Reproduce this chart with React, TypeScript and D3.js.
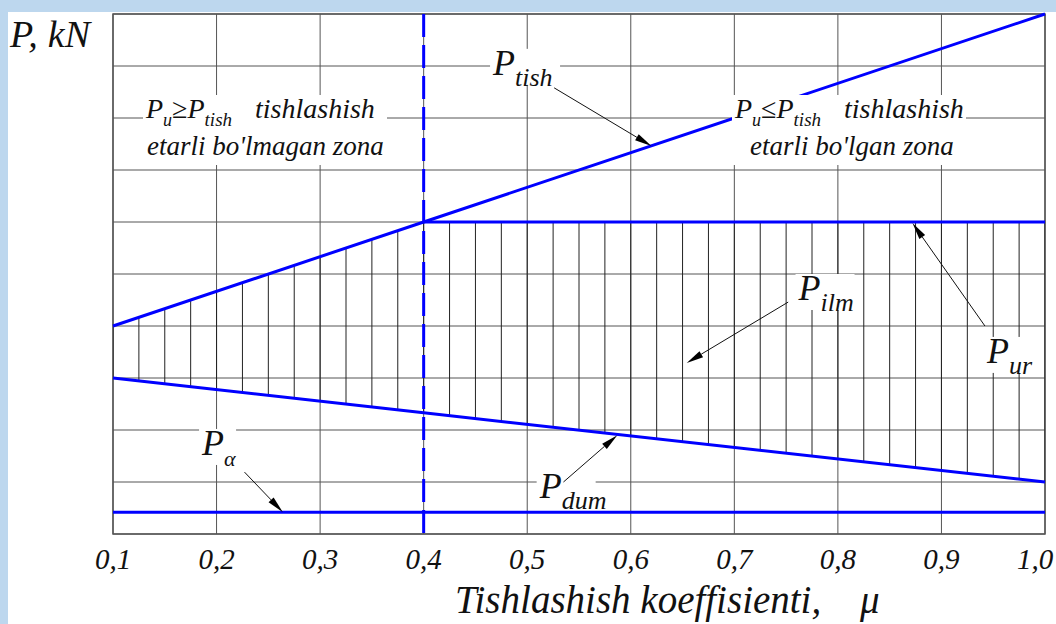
import React from "react";
import * as d3 from "d3";

// friction coefficient ticks along the bottom
const muTicks = [0.1, 0.2, 0.3, 0.4, 0.5, 0.6, 0.7, 0.8, 0.9, 1.0];
const tickLabels = ["0,1", "0,2", "0,3", "0,4", "0,5", "0,6", "0,7", "0,8", "0,9", "1,0"];
// unlabelled force grid levels
const pLevels = [0, 1, 2, 3, 4, 5, 6, 7, 8, 9, 10];

// lines, [mu, P]
const pTish = [[0.1, 4.0], [0.4, 6.0], [1.0, 10.0]];
const pUr = [[0.4, 6.0], [1.0, 6.0]];
const pDum = [[0.1, 3.0], [0.4, 2.33], [1.0, 1.0]];
const pAlpha = [[0.1, 0.42], [1.0, 0.42]];
const muBorder = 0.4;

// labels with leader arrows, [mu, P]
const callouts = [
  { sub: "tish", at: [0.467, 8.83], from: [0.526, 8.58], tip: [0.62, 7.46] },
  { sub: "ilm", at: [0.762, 4.5], from: [0.752, 4.46], tip: [0.654, 3.29] },
  { sub: "ur", at: [0.944, 3.29], from: [0.942, 4.0], tip: [0.872, 5.98] },
  { sub: "dum", at: [0.512, 0.69], from: [0.535, 1.0], tip: [0.587, 1.9] },
  { sub: "α", at: [0.186, 1.52], from: [0.227, 1.19], tip: [0.264, 0.42] },
];

const W = 1056, H = 624;
const BLUE = "#0000ff";
const ital = { fontFamily: "Times New Roman", fontStyle: "italic" } as const;

function Arrow({ x1, y1, x2, y2 }) {
  const a = Math.atan2(y2 - y1, x2 - x1);
  const L = 17, hw = 3.5;
  const bx = x2 - L * Math.cos(a), by = y2 - L * Math.sin(a);
  const px = -Math.sin(a) * hw, py = Math.cos(a) * hw;
  return (
    <g>
      <line x1={x1} y1={y1} x2={bx} y2={by} stroke="#111" strokeWidth={1} />
      <polygon points={`${x2},${y2} ${bx + px},${by + py} ${bx - px},${by - py}`} fill="#000" />
    </g>
  );
}

export default function App() {
  const x = d3.scaleLinear().domain([0.1, 1.0]).range([113, 1045]);
  const y = d3.scaleLinear().domain([0, 10]).range([534, 14]);
  const line = d3.line().x((d) => x(d[0])).y((d) => y(d[1]));

  // hatched zone between P_dum and the upper bound (P_tish up to 0.4, then P_ur)
  const upper = pTish.filter((d) => d[0] <= muBorder).concat(pUr.slice(1));
  const zone = line(upper.concat(pDum.slice().reverse())) + "Z";
  const hatch = d3.range(0, 37).map((i) => 0.1 + i * 0.025);

  const x0 = x.range()[0], x1 = x.range()[1];
  const yTop = y.range()[1], yBot = y.range()[0];

  return (
    <svg width={W} height={H} style={{ position: "absolute", left: 0, top: 0 }}>
      <rect width={W} height={H} fill="#fff" />
      <rect width={W} height={12} fill="#bdd7ee" />
      <rect width={8} height={H} fill="#bdd7ee" />

      <defs>
        <clipPath id="zone">
          <path d={zone} />
        </clipPath>
      </defs>

      {/* grid */}
      {pLevels.map((p) => (
        <line key={"h" + p} x1={x0} x2={x1} y1={y(p)} y2={y(p)} stroke="#555" strokeWidth={1} />
      ))}
      {muTicks.map((m) => (
        <line key={"v" + m} x1={x(m)} x2={x(m)} y1={yTop} y2={yBot} stroke="#555" strokeWidth={1} />
      ))}
      <rect x={x0} y={yTop} width={x1 - x0} height={yBot - yTop} fill="none" stroke="#555" strokeWidth={1.5} />

      {/* hatching */}
      <g clipPath="url(#zone)">
        {hatch.map((m) => (
          <line key={"z" + m} x1={x(m)} x2={x(m)} y1={yTop} y2={yBot} stroke="#222" strokeWidth={1} />
        ))}
      </g>

      {/* white plates under callout labels */}
      {callouts.map((c) => {
        const lx = x(c.at[0]), ly = y(c.at[1]);
        return <rect key={"b" + c.sub} x={lx - 3} y={ly - 26} width={26 + c.sub.length * 11} height={36} fill="#fff" />;
      })}

      {/* curves */}
      {[pTish, pUr, pDum, pAlpha].map((s, i) => (
        <path key={"s" + i} d={line(s)} fill="none" stroke={BLUE} strokeWidth={3} />
      ))}
      <line x1={x(muBorder)} x2={x(muBorder)} y1={yTop} y2={yBot} stroke={BLUE} strokeWidth={3} strokeDasharray="23 8" />

      {/* zone notes */}
      <rect x={143} y={95} width={244} height={70} fill="#fff" />
      <rect x={732} y={95} width={234} height={70} fill="#fff" />
      <g fontSize={28} fill="#111">
        <text x={146} y={118} style={ital}>
          P<tspan fontSize={18} dy={8}>u</tspan>
          <tspan dy={-8}>≥P</tspan>
          <tspan fontSize={19} dy={8}>tish</tspan>
          <tspan x={255} dy={-8}>tishlashish</tspan>
        </text>
        <text x={147} y={155} fontSize={27} style={ital}>etarli bo'lmagan zona</text>
        <text x={735} y={118} style={ital}>
          P<tspan fontSize={18} dy={8}>u</tspan>
          <tspan dy={-8}>≤P</tspan>
          <tspan fontSize={19} dy={8}>tish</tspan>
          <tspan x={844} dy={-8}>tishlashish</tspan>
        </text>
        <text x={750} y={155} fontSize={27} style={ital}>etarli bo'lgan zona</text>
      </g>

      {/* callouts */}
      {callouts.map((c) => (
        <g key={"c" + c.sub}>
          <text x={x(c.at[0])} y={y(c.at[1])} fontSize={36} fill="#111" style={ital}>
            P<tspan fontSize={c.sub === "α" ? 22 : 26} dy={11}>{c.sub}</tspan>
          </text>
          <Arrow x1={x(c.from[0])} y1={y(c.from[1])} x2={x(c.tip[0])} y2={y(c.tip[1])} />
        </g>
      ))}

      {/* axis text */}
      <text x={10} y={47} fontSize={38} fill="#111" style={ital}>
        P,<tspan dx={10}>kN</tspan>
      </text>
      {muTicks.map((m, i) => (
        <text key={"t" + m} x={Math.min(x(m), 1035)} y={569} textAnchor="middle" fontSize={29} fill="#111" style={ital}>
          {tickLabels[i]}
        </text>
      ))}
      <text x={455} y={613} fontSize={39} fill="#111" style={ital}>
        Tishlashish koeffisienti,<tspan x={860}>μ</tspan>
      </text>
    </svg>
  );
}
